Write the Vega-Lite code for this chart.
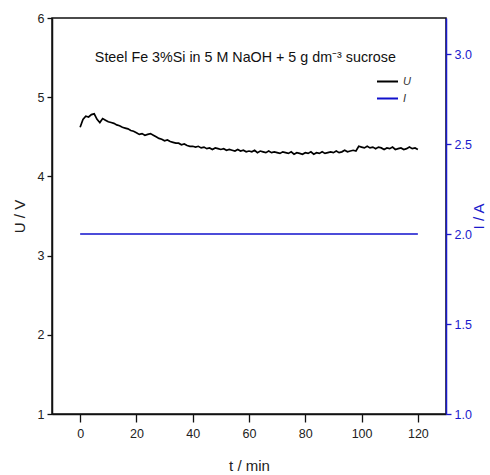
{
  "$schema": "https://vega.github.io/schema/vega-lite/v6.json",
  "width": 394,
  "height": 396,
  "autosize": "none",
  "padding": {"left": 52, "top": 18, "right": 44, "bottom": 61},
  "background": "white",
  "config": {
    "view": {"stroke": "#111111", "strokeWidth": 1.5},
    "font": "Liberation Sans",
    "axis": {
      "grid": false,
      "labelFont": "Liberation Sans",
      "titleFont": "Liberation Sans",
      "labelFontSize": 12.5,
      "titleFontSize": 15,
      "titleFontWeight": "normal",
      "labelColor": "#222222",
      "titleColor": "#222222",
      "domainColor": "#111111",
      "tickColor": "#111111",
      "domainWidth": 1.5,
      "tickWidth": 1.3
    }
  },
  "datasets": {
    "U": [
      {"t": 0, "U": 4.62}, {"t": 1, "U": 4.72}, {"t": 2, "U": 4.76}, {"t": 3, "U": 4.75}, {"t": 4, "U": 4.78},
      {"t": 5, "U": 4.79}, {"t": 6, "U": 4.72}, {"t": 7, "U": 4.68}, {"t": 8, "U": 4.73}, {"t": 9, "U": 4.71},
      {"t": 10, "U": 4.69}, {"t": 11, "U": 4.68}, {"t": 12, "U": 4.67}, {"t": 13, "U": 4.65}, {"t": 14, "U": 4.64},
      {"t": 15, "U": 4.62}, {"t": 16, "U": 4.61}, {"t": 17, "U": 4.6}, {"t": 18, "U": 4.58}, {"t": 19, "U": 4.57},
      {"t": 20, "U": 4.55}, {"t": 21, "U": 4.53}, {"t": 22, "U": 4.54}, {"t": 23, "U": 4.52}, {"t": 24, "U": 4.53},
      {"t": 25, "U": 4.54}, {"t": 26, "U": 4.52}, {"t": 27, "U": 4.5}, {"t": 28, "U": 4.48}, {"t": 29, "U": 4.47},
      {"t": 30, "U": 4.45}, {"t": 31, "U": 4.46}, {"t": 32, "U": 4.44}, {"t": 33, "U": 4.43}, {"t": 34, "U": 4.42},
      {"t": 35, "U": 4.42}, {"t": 36, "U": 4.4}, {"t": 37, "U": 4.41}, {"t": 38, "U": 4.39}, {"t": 39, "U": 4.38},
      {"t": 40, "U": 4.38}, {"t": 41, "U": 4.37}, {"t": 42, "U": 4.38}, {"t": 43, "U": 4.36}, {"t": 44, "U": 4.37},
      {"t": 45, "U": 4.35}, {"t": 46, "U": 4.36}, {"t": 47, "U": 4.34}, {"t": 48, "U": 4.36}, {"t": 49, "U": 4.35},
      {"t": 50, "U": 4.34}, {"t": 51, "U": 4.35}, {"t": 52, "U": 4.33}, {"t": 53, "U": 4.34}, {"t": 54, "U": 4.33},
      {"t": 55, "U": 4.32}, {"t": 56, "U": 4.34}, {"t": 57, "U": 4.32}, {"t": 58, "U": 4.33}, {"t": 59, "U": 4.31},
      {"t": 60, "U": 4.32}, {"t": 61, "U": 4.31}, {"t": 62, "U": 4.33}, {"t": 63, "U": 4.3}, {"t": 64, "U": 4.32},
      {"t": 65, "U": 4.31}, {"t": 66, "U": 4.3}, {"t": 67, "U": 4.32}, {"t": 68, "U": 4.3}, {"t": 69, "U": 4.31},
      {"t": 70, "U": 4.3}, {"t": 71, "U": 4.29}, {"t": 72, "U": 4.31}, {"t": 73, "U": 4.3}, {"t": 74, "U": 4.29},
      {"t": 75, "U": 4.31}, {"t": 76, "U": 4.28}, {"t": 77, "U": 4.3}, {"t": 78, "U": 4.29}, {"t": 79, "U": 4.28},
      {"t": 80, "U": 4.3}, {"t": 81, "U": 4.29}, {"t": 82, "U": 4.31}, {"t": 83, "U": 4.28}, {"t": 84, "U": 4.3},
      {"t": 85, "U": 4.29}, {"t": 86, "U": 4.31}, {"t": 87, "U": 4.29}, {"t": 88, "U": 4.3}, {"t": 89, "U": 4.31},
      {"t": 90, "U": 4.3}, {"t": 91, "U": 4.32}, {"t": 92, "U": 4.3}, {"t": 93, "U": 4.31}, {"t": 94, "U": 4.33},
      {"t": 95, "U": 4.31}, {"t": 96, "U": 4.32}, {"t": 97, "U": 4.33}, {"t": 98, "U": 4.32}, {"t": 99, "U": 4.38},
      {"t": 100, "U": 4.37}, {"t": 101, "U": 4.36}, {"t": 102, "U": 4.38}, {"t": 103, "U": 4.36}, {"t": 104, "U": 4.37},
      {"t": 105, "U": 4.35}, {"t": 106, "U": 4.37}, {"t": 107, "U": 4.36}, {"t": 108, "U": 4.34}, {"t": 109, "U": 4.36},
      {"t": 110, "U": 4.35}, {"t": 111, "U": 4.37}, {"t": 112, "U": 4.34}, {"t": 113, "U": 4.35}, {"t": 114, "U": 4.36},
      {"t": 115, "U": 4.34}, {"t": 116, "U": 4.35}, {"t": 117, "U": 4.37}, {"t": 118, "U": 4.35}, {"t": 119, "U": 4.36},
      {"t": 120, "U": 4.34}
    ],
    "I": [
      {"t": 0, "I": 2.0},
      {"t": 120, "I": 2.0}
    ],
    "note": [
      {"label": "Steel Fe 3%Si in 5 M NaOH + 5 g dm⁻³ sucrose"}
    ]
  },
  "layer": [
    {
      "data": {"name": "U"},
      "mark": {"type": "line", "strokeWidth": 1.7},
      "encoding": {
        "x": {
          "field": "t", "type": "quantitative",
          "scale": {"domain": [-10, 130], "nice": false, "zero": false},
          "axis": {"orient": "bottom", "values": [0, 20, 40, 60, 80, 100, 120], "tickSize": 8, "labelPadding": 5, "title": "t / min", "titlePadding": 19}
        },
        "y": {
          "field": "U", "type": "quantitative",
          "scale": {"domain": [1, 6], "nice": false, "zero": false},
          "axis": {"orient": "left", "values": [1, 2, 3, 4, 5, 6], "tickSize": 5, "labelPadding": 3, "title": "U / V", "titlePadding": 10}
        },
        "color": {
          "datum": "U", "type": "nominal",
          "scale": {"domain": ["U", "I"], "range": ["#000000", "#1010cc"]},
          "legend": {
            "orient": "none", "legendX": 324, "legendY": 52, "title": null,
            "symbolType": "stroke", "symbolSize": 441, "symbolStrokeWidth": 2,
            "labelFontStyle": "italic", "labelFontSize": 11, "labelColor": "#333333",
            "labelFont": "Liberation Sans",
            "rowPadding": 0, "padding": 0, "labelOffset": 4
          }
        }
      }
    },
    {
      "data": {"name": "note"},
      "mark": {"type": "text", "fontSize": 14.3, "align": "center", "baseline": "alphabetic", "color": "#111111", "font": "Liberation Sans"},
      "encoding": {
        "x": {"datum": 58.7, "type": "quantitative"},
        "y": {
          "datum": 5.44, "type": "quantitative",
          "scale": {"domain": [1, 6], "nice": false, "zero": false},
          "axis": null
        },
        "text": {"field": "label"}
      }
    },
    {
      "data": {"name": "I"},
      "mark": {"type": "line", "strokeWidth": 1.5},
      "encoding": {
        "x": {"field": "t", "type": "quantitative"},
        "y": {
          "field": "I", "type": "quantitative",
          "scale": {"domain": [1, 3.2], "nice": false, "zero": false},
          "axis": {
            "orient": "right", "values": [1, 1.5, 2, 2.5, 3], "format": ".1f", "tickSize": 5, "labelPadding": 3,
            "title": "I / A", "titleAngle": 270, "titlePadding": 15,
            "domainColor": "#1a1acc", "tickColor": "#1a1acc", "labelColor": "#1a1acc", "titleColor": "#1a1acc"
          }
        },
        "color": {"datum": "I", "type": "nominal"}
      }
    }
  ],
  "resolve": {"scale": {"y": "independent"}}
}
